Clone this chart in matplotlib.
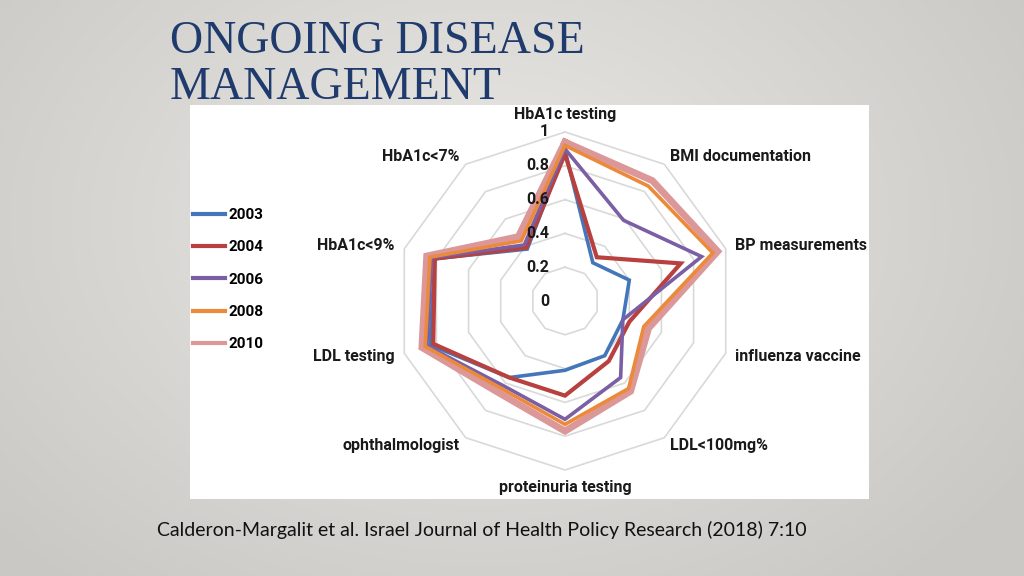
import numpy as np
import matplotlib.pyplot as plt
from matplotlib.lines import Line2D

# radar chart data
categories = ['HbA1c testing', 'BMI documentation', 'BP measurements',
              'influenza vaccine', 'LDL<100mg%', 'proteinuria testing',
              'ophthalmologist', 'LDL testing', 'HbA1c<9%', 'HbA1c<7%']
years = ['2003', '2004', '2006', '2008', '2010']
v2003 = [0.89, 0.28, 0.40, 0.36, 0.40, 0.41, 0.56, 0.84, 0.81, 0.38]
v2004 = [0.87, 0.32, 0.72, 0.40, 0.44, 0.56, 0.56, 0.82, 0.81, 0.39]
v2006 = [0.90, 0.59, 0.85, 0.36, 0.56, 0.70, 0.62, 0.86, 0.83, 0.41]
v2008 = [0.92, 0.84, 0.92, 0.49, 0.64, 0.73, 0.64, 0.87, 0.84, 0.44]
v2010 = [0.94, 0.88, 0.95, 0.52, 0.66, 0.77, 0.67, 0.89, 0.86, 0.47]
tick_values = [0, 0.2, 0.4, 0.6, 0.8, 1.0]
tick_labels = ['0', '0.2', '0.4', '0.6', '0.8', '1']

series = [v2003, v2004, v2006, v2008, v2010]
colors = ['#4477b9', '#b8413f', '#7b5fa4', '#ec8a3b', '#dc9898']
widths = [2.6, 3.0, 2.6, 2.6, 5.0]
zorders = [4, 5, 6, 7, 3]

W, H = 1024, 576
fig = plt.figure(figsize=(W / 100, H / 100), dpi=100)

# slide background, soft grey radial gradient
bg = fig.add_axes([0, 0, 1, 1])
yy, xx = np.mgrid[0:H, 0:W]
d = np.sqrt(((xx - 480) / 640.0) ** 2 + ((yy - 220) / 470.0) ** 2)
t = np.clip(d, 0, 1)[..., None]
light = np.array([0.915, 0.91, 0.90])
dark = np.array([0.795, 0.787, 0.772])
bg.imshow(light * (1 - t) + dark * t, extent=[0, W, H, 0], aspect='auto')
bg.set_xlim(0, W)
bg.set_ylim(H, 0)
bg.axis('off')

# title and caption
title_kw = dict(fontfamily='Liberation Serif', fontsize=33, color='#1f3a6c', va='baseline')
fig.text(170 / W, 1 - 53 / H, 'ONGOING DISEASE', **title_kw)
fig.text(170 / W, 1 - 99 / H, 'MANAGEMENT', **title_kw)
fig.text(157 / W, 1 - 536 / H,
         'Calderon-Margalit et al. Israel Journal of Health Policy Research (2018) 7:10',
         fontfamily='Lato', fontsize=14, color='#111111', va='baseline')

# white picture box holding the radar
x0, y0, x1, y1 = 190, 105, 869, 499
ax = fig.add_axes([x0 / W, 1 - y1 / H, (x1 - x0) / W, (y1 - y0) / H])
ax.set_facecolor('white')
for s in ax.spines.values():
    s.set_visible(False)
ax.set_xticks([])
ax.set_yticks([])
R, cx, cy = 169.0, 565, 301
ax.set_xlim((x0 - cx) / R, (x1 - cx) / R)
ax.set_ylim((cy - y1) / R, (cy - y0) / R)

n = len(categories)
angles = np.arange(n + 1) * 2 * np.pi / n
sx, sy = np.sin(angles), np.cos(angles)

for v in tick_values[1:]:
    ax.plot(v * sx, v * sy, color='#d9d9d9', lw=1.2, zorder=1)

for vals, col, lw, z in zip(series, colors, widths, zorders):
    r = np.array(vals + vals[:1])
    ax.plot(r * sx, r * sy, color=col, lw=lw, zorder=z, solid_joinstyle='miter')

lab_font = dict(fontfamily='Roboto', fontsize=11.5, fontweight='bold', color='#1a1a1a')
for v, lab in zip(tick_values, tick_labels):
    ax.text(-16 / R, v, lab, ha='right', va='center', zorder=10, **lab_font)

rl = 1.06
for i, cat in enumerate(categories):
    s, c = sx[i], sy[i]
    if abs(s) < 0.01:
        ha, va = 'center', ('bottom' if c > 0 else 'top')
    else:
        ha, va = ('left' if s > 0 else 'right'), 'center'
    ax.text(rl * s, rl * c, cat, ha=ha, va=va, **lab_font)

handles = [Line2D([], [], color=c, lw=3) for c in colors]
ax.legend(handles, years, loc='upper left', bbox_to_anchor=(193 / W, 1 - 208 / H),
          bbox_transform=fig.transFigure, frameon=False, handlelength=2.1,
          handletextpad=0.2, labelspacing=1.2, borderpad=0, borderaxespad=0,
          prop=dict(family='Roboto', size=11, weight='bold'))

fig.savefig('out.png', dpi=100)
